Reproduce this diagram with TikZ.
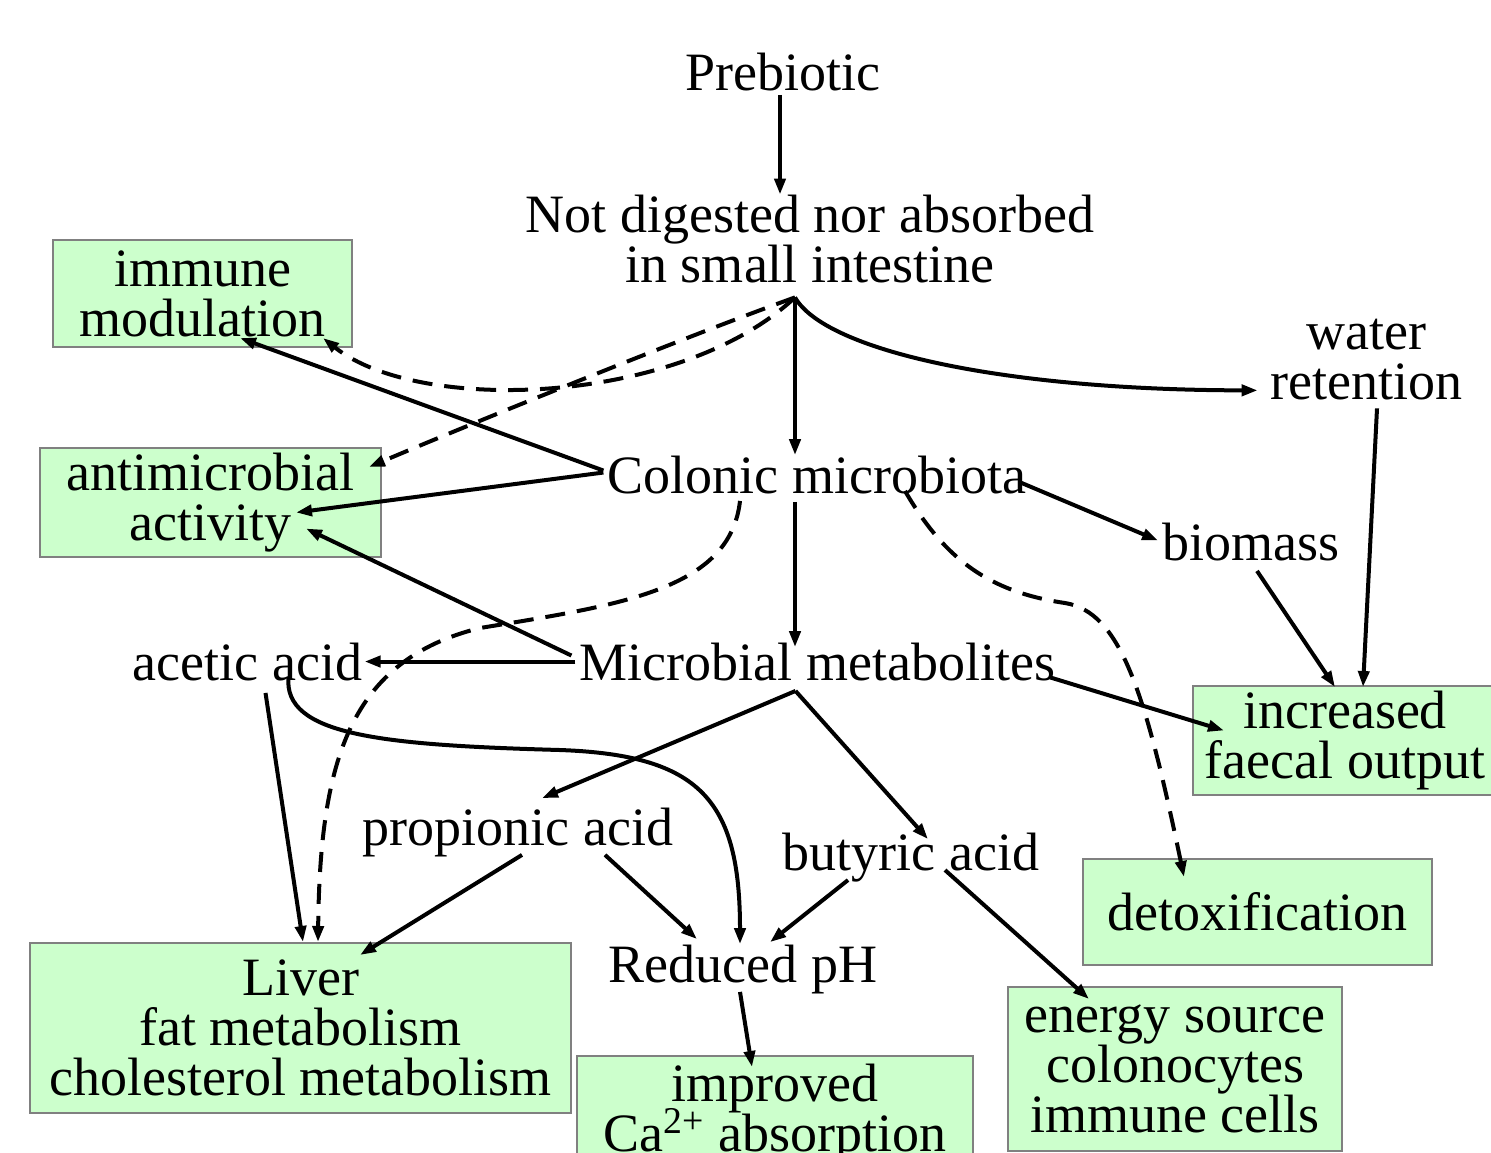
\documentclass[tikz,border=0pt]{standalone}
\usepackage{fontspec}
\setmainfont{Liberation Serif}
\usetikzlibrary{arrows.meta,calc}
\definecolor{boxgreen}{HTML}{CCFFCC}
\definecolor{boxgray}{HTML}{808080}
\newcommand\dgfont{\fontsize{27}{25}\selectfont\lineskiplimit=-30pt\relax}
\begin{document}
\begin{tikzpicture}[x=0.5pt,y=-0.5pt,
  txt/.style={inner sep=0pt, anchor=base, font=\dgfont},
  mtxt/.style={inner sep=0pt, align=center, font=\dgfont},
  box/.style={draw=boxgray, fill=boxgreen, line width=1pt, inner sep=0pt, align=center, font=\dgfont},
  arr/.style={line width=2pt, -{Triangle[length=8pt,width=5.5pt]}},
  darr/.style={arr, dash pattern=on 10pt off 6pt}]
\useasboundingbox (0,0) rectangle (1491,1152);
\clip (0,0) rectangle (1491,1152);
% boxes
\node[box, minimum width=149.5pt, minimum height=53.5pt] (imm) at (202.5,293.5) {immune\\modulation};
\node[box, minimum width=170.5pt, minimum height=54.5pt] (anti) at (210.5,502.5) {antimicrobial\\activity};
\node[box, minimum width=152pt, minimum height=54.5pt] (fae) at (1345,740.5) {increased\\faecal output};
\node[box, minimum width=174.5pt, minimum height=53pt] (det) at (1257.5,912) {detoxification};
\node[box, minimum width=270.5pt, minimum height=85pt] (liv) at (300.5,1028) {Liver\\fat metabolism\\cholesterol metabolism};
\node[box, minimum width=198pt, minimum height=57.5pt] (imp) at (775,1113.5) {improved\\Ca\textsuperscript{2+} absorption};
\node[box, minimum width=167pt, minimum height=82pt] (ene) at (1175,1069) {energy source\\colonocytes\\immune cells};
% plain text nodes
\node[txt] (pre) at (783,90) {Prebiotic};
\node[mtxt] (nd) at (810,239) {Not digested nor absorbed\\in small intestine};
\node[mtxt] (wat) at (1366,359.5) {water\\retention};
\node[txt] (col) at (817,493) {Colonic microbiota};
\node[txt] (bio) at (1251,560) {biomass};
\node[txt] (ace) at (247.5,680) {acetic acid};
\node[txt] (mm) at (817.5,680) {Microbial metabolites};
\node[txt] (prop) at (518,845) {propionic acid};
\node[txt] (but) at (911,870) {butyric acid};
\node[txt] (ph) at (743,982) {Reduced pH};
% helper coordinates
\coordinate (preb) at ($(pre.south)+(-3,4)$);
\coordinate (ndb) at ($(nd.south)+(-15,14)$);
\coordinate (cb) at ($(col.south)+(-22,8)$);
\coordinate (mmt) at ($(mm.north)+(0,5)$);
\coordinate (mmb) at ($(mm.south)+(-22,10)$);
% connectors
\draw[arr] (preb) -- (preb |- nd.north);
\draw[arr] (ndb) -- (ndb |- col.north);
\draw[arr] (ndb) .. controls (825,350) and (1000,390) .. ($(wat.south west)+(-12,-10)$);
\draw[darr] (ndb) .. controls (680,405) and (420,415) .. ($(imm.south east)+(-30,-10)$);
\draw[darr] (ndb) .. controls (690,335) and (480,420) .. ($(anti.north east)+(-13,20)$);
\draw[arr] ($(col.west)+(-4,-4)$) -- ($(imm.south)+(37.5,-10)$);
\draw[arr] ($(col.west)+(-4,-2)$) -- ($(anti.east)+(-86,10)$);
\draw[arr] (cb) -- (cb |- mmt);
\draw[arr] ($(col.east)+(-6,8)$) -- ($(bio.west)+(-4,-1)$);
\draw[darr] ($(col.south)+(-77,7)$) .. controls (730,590) and (620,605) .. (480,628) .. controls (350,660) and (320,760) .. ($(liv.north)+(17.5,0)$);
\draw[darr] ($(col.south)+(88,-3)$) .. controls (945,560) and (990,592) .. (1065,603) .. controls (1120,612) and (1145,690) .. ($(det.north west)+(102,19)$);
\draw[arr] ($(mm.west)+(-8,-6)$) -- ($(anti.east)+(-76,26)$);
\draw[arr] ($(mm.west)+(-4,0)$) -- ($(ace.east)+(2,0)$);
\draw[arr] ($(mm.east)+(-5,16)$) -- ($(fae.west)+(32,-10)$);
\draw[arr] (mmb) -- ($(prop.north)+(24,-9)$);
\draw[arr] (mmb) -- ($(but.north)+(17,7)$);
\draw[arr] ($(ace.south)+(18,12)$) -- ($(liv.north)+(2.5,0)$);
\draw[arr] ($(ace.south)+(41,-4)$) .. controls (283,735) and (380,745) .. (560,750) .. controls (700,755) and (740,800) .. ($(ph.north)+(-3,0)$);
\draw[arr] ($(prop.south)+(4,-2)$) -- ($(liv.north)+(59.5,13)$);
\draw[arr] ($(prop.south)+(87,-2)$) -- ($(ph.north)+(-46,-5)$);
\draw[arr] ($(but.south)+(-63,-2)$) -- ($(ph.north)+(27,-2)$);
\draw[arr] ($(but.south)+(34,-12)$) -- ($(ene.north west)+(82,13)$);
\draw[arr] ($(bio.south)+(6,10)$) -- ($(fae.north)+(-10,2)$);
\draw[arr] ($(wat.south)+(11,8)$) -- ($(fae.north)+(18,2)$);
\draw[arr] ($(ph.south)+(-3,-2)$) -- ($(imp.north)+(-23,12)$);
\end{tikzpicture}
\end{document}
